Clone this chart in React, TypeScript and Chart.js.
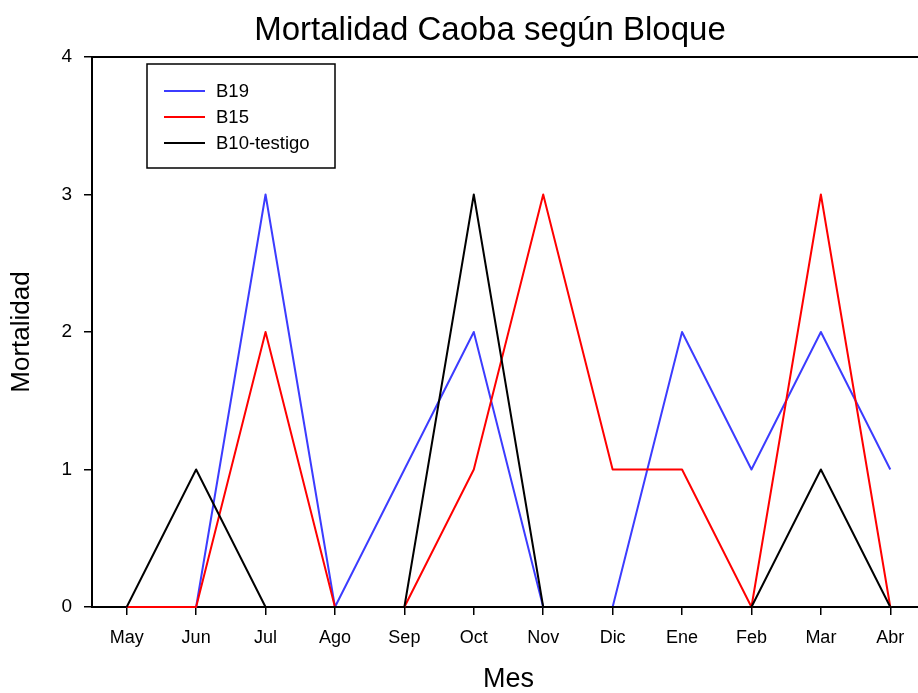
import React, { useEffect, useRef } from "react";
import { Chart, registerables } from "chart.js";

Chart.register(...registerables);

const months = ["May", "Jun", "Jul", "Ago", "Sep", "Oct", "Nov", "Dic", "Ene", "Feb", "Mar", "Abr"];
const b19 = [0, 0, 3, 0, 1, 2, 0, 0, 2, 1, 2, 1];
const b15 = [0, 0, 2, 0, 0, 1, 3, 1, 1, 0, 3, 0];
const b10 = [0, 1, 0, 0, 0, 3, 0, 0, 0, 0, 1, 0];
const yTicks = [0, 1, 2, 3, 4];
const seriesNames = ["B19", "B15", "B10-testigo"];
const seriesColors = ["#3c3cff", "#ff0000", "#000000"];

const FONT = '"Liberation Sans", Arial, sans-serif';

const framePlugin = {
  id: "frame",
  afterDraw(chart: any) {
    const { ctx, chartArea } = chart;
    const { left, right, top, bottom } = chartArea;
    ctx.save();
    ctx.strokeStyle = "#000";
    ctx.lineWidth = 2;
    ctx.beginPath();
    ctx.moveTo(left, top);
    ctx.lineTo(right, top);
    ctx.lineTo(right, bottom);
    ctx.stroke();
    ctx.restore();
  },
};

const legendPlugin = {
  id: "boxLegend",
  afterDraw(chart: any) {
    const { ctx, chartArea } = chart;
    const x0 = chartArea.left + 55;
    const y0 = chartArea.top + 7;
    const w = 188;
    const h = 104;
    ctx.save();
    ctx.fillStyle = "#fff";
    ctx.fillRect(x0, y0, w, h);
    ctx.strokeStyle = "#000";
    ctx.lineWidth = 1.5;
    ctx.strokeRect(x0, y0, w, h);
    ctx.font = `18.5px ${FONT}`;
    ctx.textBaseline = "middle";
    ctx.textAlign = "left";
    const dsets = chart.data.datasets;
    [0, 1, 2].forEach((i, row) => {
      const ds = dsets[i];
      const y = y0 + 27 + row * 26;
      ctx.strokeStyle = ds.borderColor;
      ctx.lineWidth = 2;
      ctx.beginPath();
      ctx.moveTo(x0 + 17, y);
      ctx.lineTo(x0 + 58, y);
      ctx.stroke();
      ctx.fillStyle = "#000";
      ctx.fillText(ds.label, x0 + 69, y + 1);
    });
    ctx.restore();
  },
};

export default function App() {
  const ref = useRef<HTMLCanvasElement | null>(null);

  useEffect(() => {
    if (!ref.current) return;
    Chart.defaults.font.family = FONT;
    Chart.defaults.color = "#000";
    const chart = new Chart(ref.current, {
      type: "line",
      data: {
        labels: months,
        datasets: [
          { label: seriesNames[0], data: b19, borderColor: seriesColors[0], backgroundColor: seriesColors[0], order: 3 },
          { label: seriesNames[1], data: b15, borderColor: seriesColors[1], backgroundColor: seriesColors[1], order: 2 },
          { label: seriesNames[2], data: b10, borderColor: seriesColors[2], backgroundColor: seriesColors[2], order: 1 },
        ].map((d) => ({
          ...d,
          borderWidth: 2,
          borderJoinStyle: "round",
          pointRadius: 0,
          tension: 0,
          fill: false,
          clip: false,
        })),
      },
      options: {
        responsive: false,
        animation: false,
        devicePixelRatio: 1,
        layout: { padding: 0 },
        plugins: {
          legend: { display: false },
          tooltip: { enabled: false },
          title: {
            display: true,
            text: "Mortalidad Caoba según Bloque",
            color: "#000",
            font: { family: FONT, size: 33, weight: "normal", lineHeight: 1 },
            padding: { top: 14, bottom: 10 },
          },
        },
        scales: {
          x: {
            type: "category",
            offset: true,
            grid: { offset: false, drawOnChartArea: false, drawTicks: true, tickLength: 8, color: "#000", lineWidth: 1.5 },
            border: { display: true, color: "#000", width: 2 },
            ticks: { color: "#000", font: { family: FONT, size: 18 }, padding: 12, maxRotation: 0, autoSkip: false },
            title: { display: true, text: "Mes", color: "#000", font: { family: FONT, size: 27, lineHeight: 1 }, padding: { top: 0, bottom: 0 } },
            afterFit: (s: any) => { s.height = 86; },
          },
          y: {
            type: "linear",
            min: 0,
            max: 4,
            afterBuildTicks: (s: any) => { s.ticks = yTicks.map((v) => ({ value: v })); },
            grid: { drawOnChartArea: false, drawTicks: true, tickLength: 8, color: "#000", lineWidth: 1.5 },
            border: { display: true, color: "#000", width: 2 },
            ticks: { color: "#000", font: { family: FONT, size: 19 }, padding: 12 },
            title: { display: true, text: "Mortalidad", color: "#000", font: { family: FONT, size: 26, lineHeight: 1 }, padding: { top: 9, bottom: 0 } },
            afterFit: (s: any) => { s.width = 92; },
          },
          yR: {
            type: "linear",
            position: "right",
            display: true,
            grid: { display: false },
            ticks: { display: false },
            border: { display: false },
            afterFit: (s: any) => { s.width = 55; },
          },
        },
      },
      plugins: [framePlugin, legendPlugin],
    } as any);
    return () => chart.destroy();
  }, []);

  return (
    <div style={{ position: "fixed", left: 0, top: 0, width: 918, height: 693, overflow: "hidden", background: "#fff" }}>
      <canvas ref={ref} width={980} height={693} style={{ width: 980, height: 693, display: "block" }} />
    </div>
  );
}
